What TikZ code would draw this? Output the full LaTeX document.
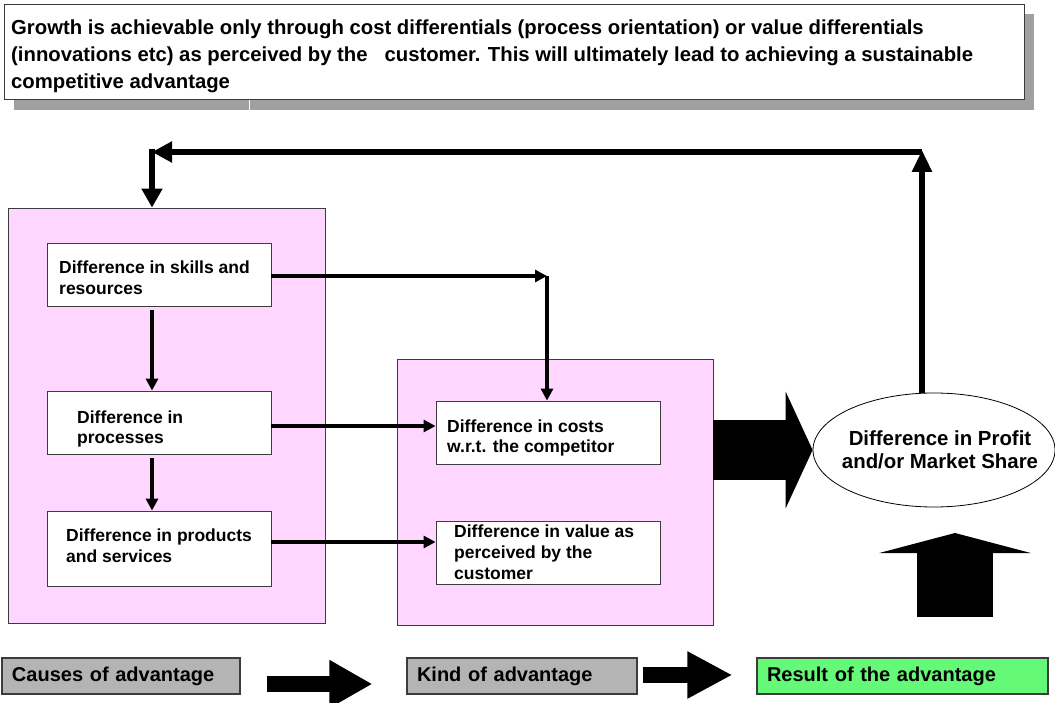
\documentclass[tikz,border=0pt]{standalone}
\usepackage{fontspec}
\setmainfont{Liberation Sans}
\usetikzlibrary{arrows.meta,shapes.geometric,calc}
\definecolor{panelpink}{RGB}{255,214,255}
\definecolor{shadowgray}{RGB}{160,160,160}
\definecolor{taggray}{RGB}{180,180,180}
\definecolor{taggreen}{RGB}{100,250,120}
\definecolor{edgegray}{RGB}{60,60,60}

\begin{document}
\begin{tikzpicture}[x=1pt,y=-1pt,
  panel/.style={draw=edgegray, line width=0.8pt, fill=panelpink, inner sep=0pt},
  cellbox/.style={draw=edgegray, line width=0.8pt, fill=white, inner sep=0pt, minimum width=224pt},
  celltext/.style={font=\fontsize{17.5}{20.8}\selectfont\bfseries, align=left, inner sep=0pt, anchor=west},
  tag/.style={draw=edgegray, line width=1.2pt, minimum height=36pt, inner xsep=10pt, align=left,
    font=\fontsize{20}{24}\selectfont\bfseries},
  flow/.style={line width=3.6pt, -{Triangle[length=12pt,width=12pt]}},
  loopline/.style={line width=6.5pt, -{Triangle[length=20pt,width=20pt]}},
]
\useasboundingbox (0,0) rectangle (1055,703);

% headline with drop shadow
\fill[shadowgray] (14,14) rectangle (1034,110);
\draw[white, line width=1pt] (249,100) -- (249,110);
\node[draw=edgegray, line width=1pt, fill=white, minimum width=1020pt, minimum height=95pt,
      inner sep=0pt] (banner) at (514,52.5) {};
\node[anchor=north west, inner sep=0pt, align=left, font=\fontsize{20.3}{27}\selectfont\bfseries]
  (bannerT) at (11,19.5)
  {Growth is achievable only through cost differentials (process orientation) or value differentials\\
   (innovations etc) as perceived by the~~~customer. This will ultimately lead to achieving a sustainable\\
   competitive advantage};

% panels
\node[panel, minimum width=317pt, minimum height=415pt] (causes) at (166.5,415.5) {};
\node[panel, minimum width=316pt, minimum height=266pt] (kind) at (555,492) {};

% cells of the left panel
\node[cellbox, minimum height=63pt] (skills) at (159,274.5) {};
\node[celltext] (skillsT) at (59,278) {Difference in skills and\\resources};
\node[cellbox, minimum height=63pt] (processes) at (159,422.5) {};
\node[celltext] (processesT) at (77,429) {Difference in\\processes};
\node[cellbox, minimum height=75pt] (products) at (159,548.5) {};
\node[celltext] (productsT) at (66,546) {Difference in products\\and services};

% cells of the middle panel
\node[cellbox, minimum height=63pt] (cost) at (548,432.5) {};
\node[celltext] (costT) at (447,438) {Difference in costs\\w.r.t. the competitor};
\node[cellbox, minimum height=63pt] (value) at (548,552.5) {};
\node[celltext] (valueT) at (454,552) {Difference in value as\\perceived by the\\customer};

% result
\node[ellipse, draw=black, line width=0.8pt, fill=white, minimum width=242pt, minimum height=114pt,
      inner sep=0pt] (profit) at (934,450) {};
\node[inner sep=0pt, align=center, font=\fontsize{20.4}{22.5}\selectfont\bfseries]
  (profitT) at (940,450) {Difference in Profit\\and/or Market Share};

% bottom legend
\node[tag, fill=taggray, text width=218pt] (tagC) at (121,676) {Causes of advantage};
\node[tag, fill=taggray, text width=210pt] (tagK) at (522,676) {Kind of advantage};
\node[tag, fill=taggreen, text width=271pt] (tagR) at (902.5,676) {Result of the advantage};

% thin flows
\coordinate (knee) at (547,276);
\draw[flow] ($(skills.east)+(0,1.5)$) -- (knee);
\draw[flow] (knee) -- (knee |- cost.north);
\draw[flow] ($(skills.south)+(-7,4)$) -- ($(processes.north)+(-7,0)$);
\draw[flow] ($(processes.south)+(-7,4)$) -- ($(products.north)+(-7,0)$);
\draw[flow] ($(processes.east)+(0,3.5)$) -- ($(cost.west)+(0,-6.5)$);
\draw[flow] ($(products.east)+(0,-6.5)$) -- ($(value.west)+(0,-10.5)$);

% feedback loop
\coordinate (loopR) at (922,150);
\coordinate (loopL) at (152,152);
\draw[line width=6pt, -{Triangle[length=22pt,width=19pt]}] (profit.north -| loopR) -- (loopR);
\draw[loopline] (922,152) -- (loopL);
\draw[line width=6pt, -{Triangle[length=19pt,width=20pt]}] ($(loopL)+(0,-3)$) -- (loopL |- causes.north);

% block arrows
\draw[line width=60pt, -{Triangle[length=27pt,width=116pt]}] (kind.east |- profit.west) -- (profit.west);
\coordinate (upBase) at (955,617);
\coordinate (upTip) at (955,533);
\draw[line width=76pt, -{Triangle[length=20pt,width=151pt]}] (upBase) -- (upTip);
\draw[line width=16pt, -{Triangle[length=43pt,width=45pt]}] ($(tagC.east)+(26,8)$) -- ($(tagK.west)+(-34,8)$);
\draw[line width=16pt, -{Triangle[length=45pt,width=44pt]}] ($(tagK.east)+(5,-1)$) -- ($(tagR.west)+(-24,-1)$);
\end{tikzpicture}
\end{document}
